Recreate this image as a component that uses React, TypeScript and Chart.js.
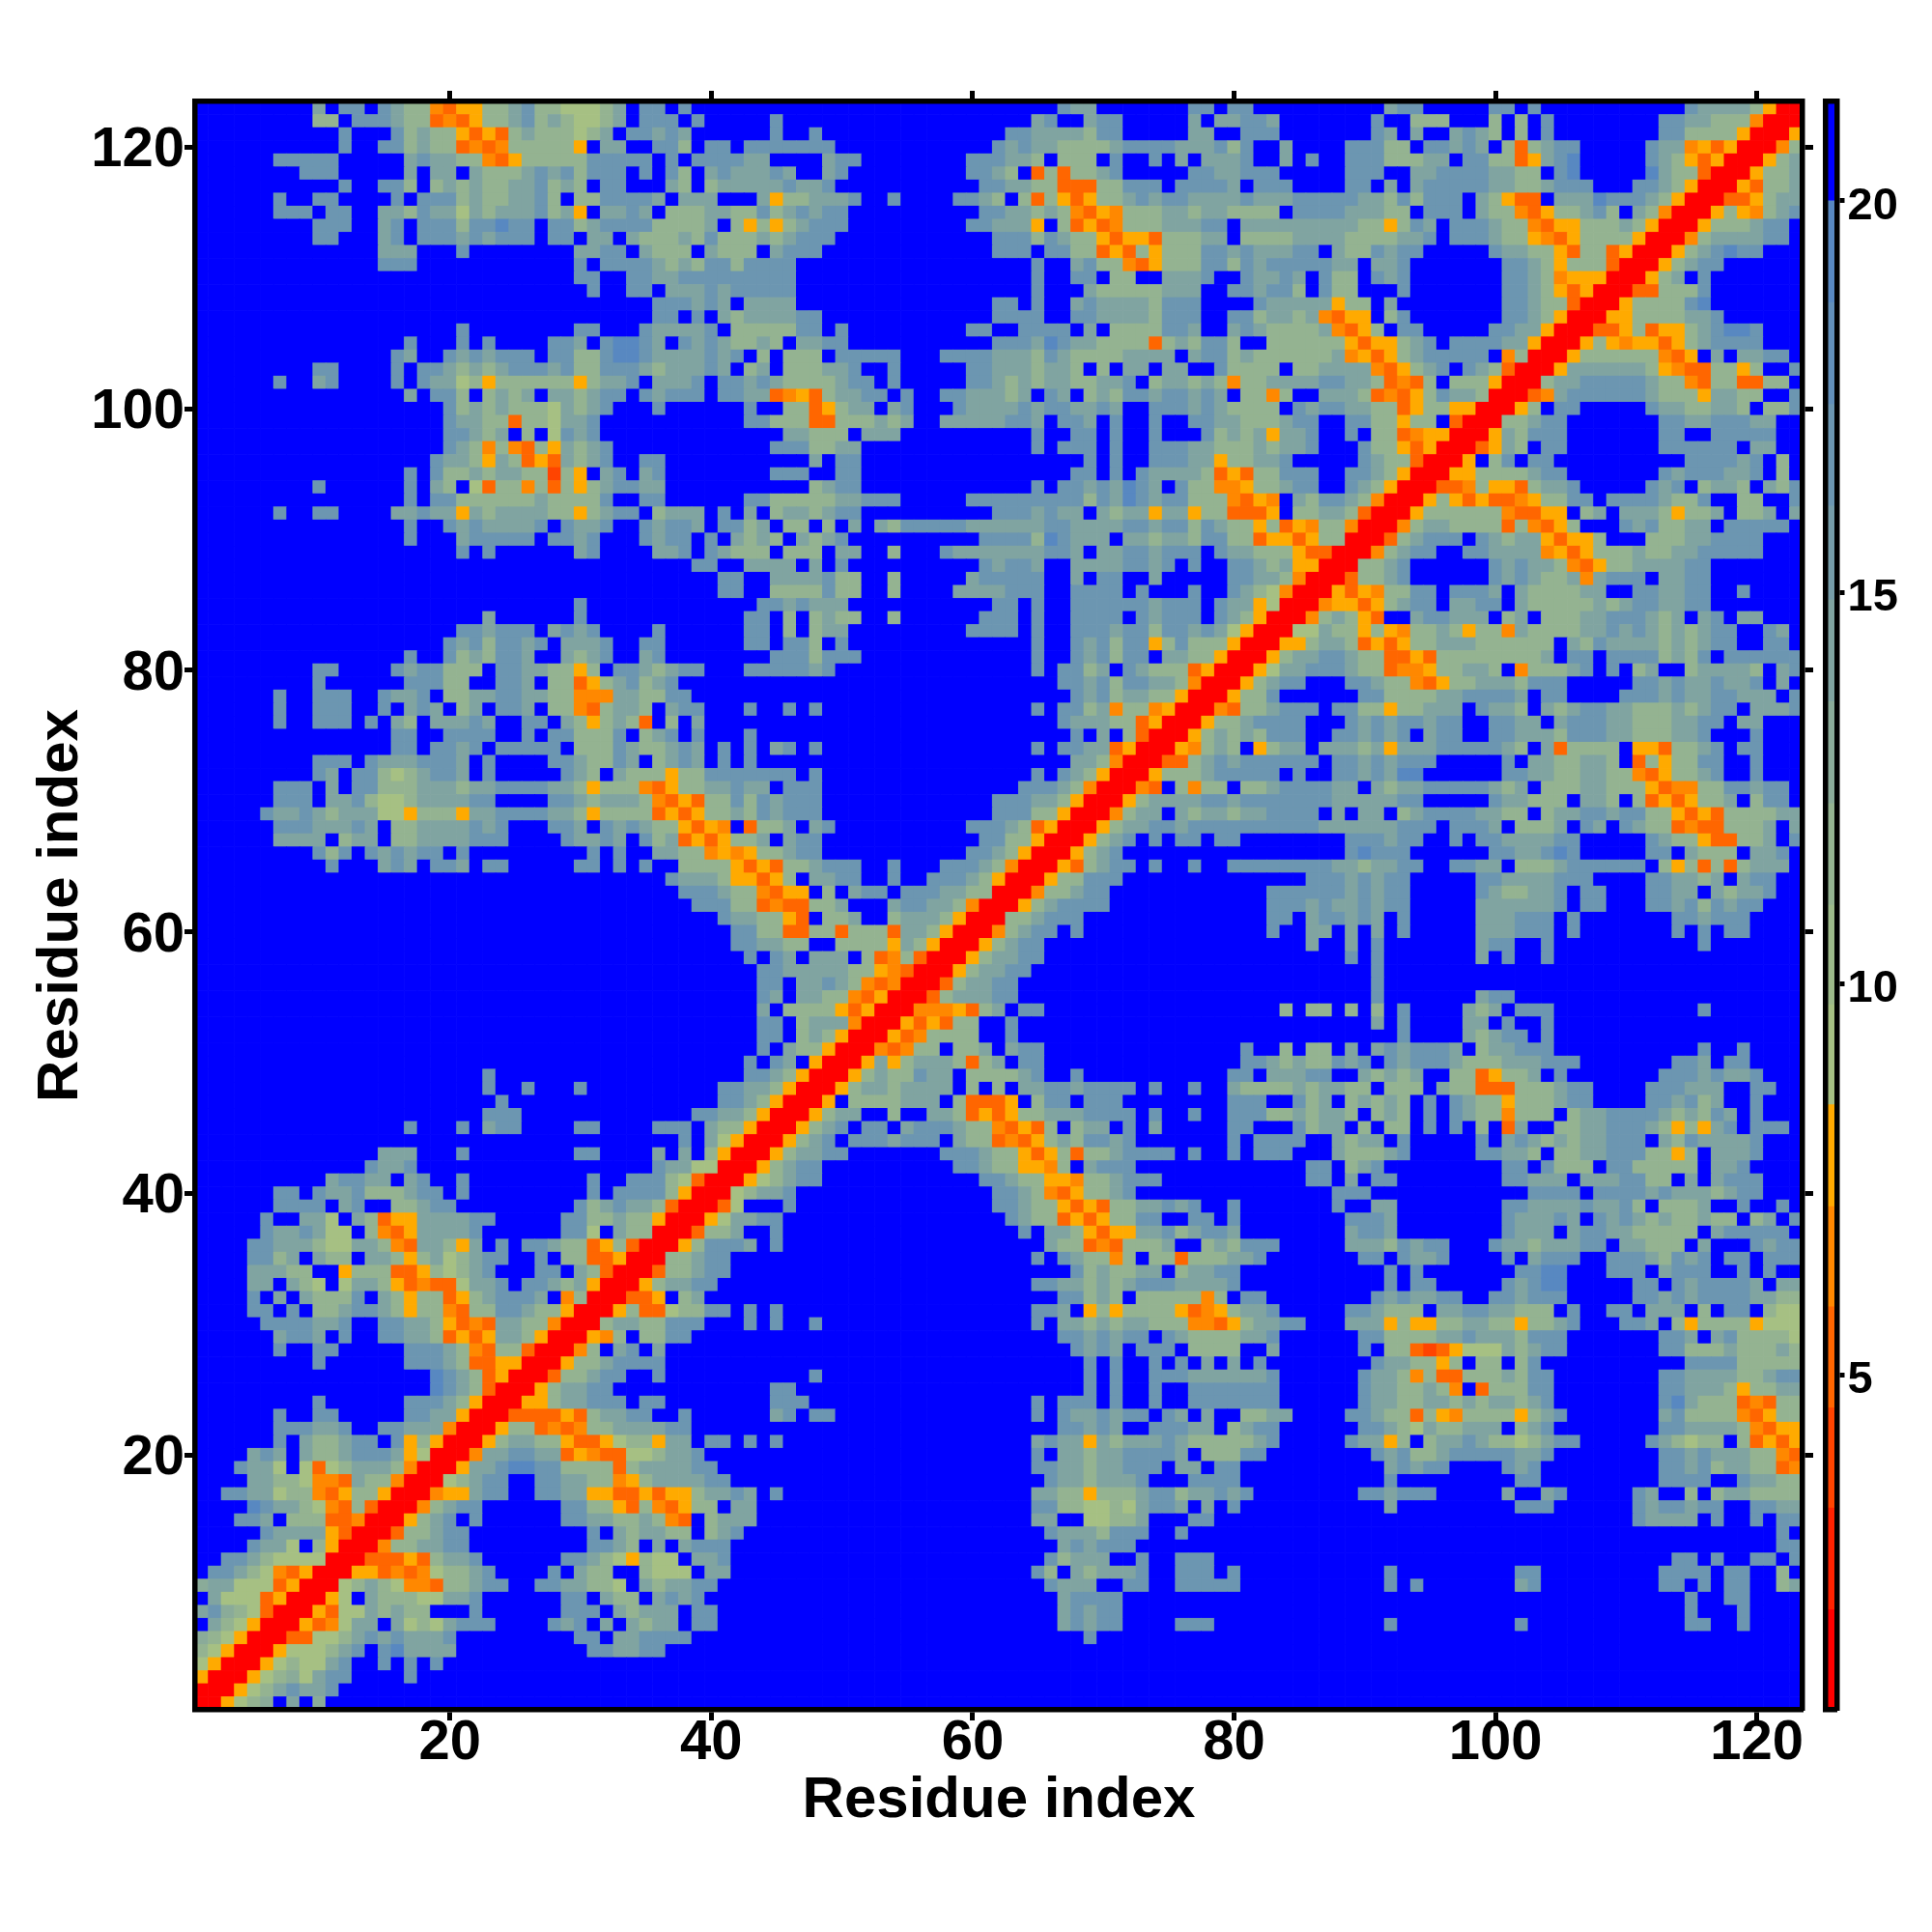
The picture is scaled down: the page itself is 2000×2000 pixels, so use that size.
import React, { useEffect, useRef } from "react";
import { Chart, registerables } from "chart.js";

Chart.register(...registerables);

const residues: number[] = Array.from({ length: 123 }, (_, i) => i + 1);
const residueTicks = [20, 40, 60, 80, 100, 120];
const colorbarTicks = [5, 10, 15, 20];

// Upper triangle, one string per row y, starting at x = y.
// Letters are colour classes, "." or a number is a blue run, "|" separates the x blocks 1-41, 42-82, 83-123.
const triangleRows: string[] = [
  "RRWacd.e.d||",
  "RRWacegeeg||",
  "RRWacdaegg4g||",
  "RRWacaaeg..g.g.g||",
  "RRWaaaceg.gieeee10ggeegg||",
  "RRTTaacegegeeeg9gg.eegggg|27g|",
  "RRWTVaee.eacaeggg4geg.e.ecee.gg|25egegg4ggg|9g9g12gg..g",
  "RRWTaaececc3g6ggg.eceee.gg|25egegg|32g3g",
  "RRWa.ecccaaeeg6gg.ecc.egeg|25egggg|32g..gg",
  "RRacecaVVTccegg..ggeecca.eceegg|24geee..gg..ggggg|9g.g7eg9gg.g.gg..ce",
  "RRWWTVTVacceg4g.ecc..caaa.ee|23gc.eceeeg..ggg.g|9g9gg9gggg.gg..c",
  "RRTTTWTceeg6ggecaWcaa.eeg|24gceee..g..ggg|31gg.g..gg.g",
  "RRVcceegg9ggec.e.eggg|25egeggg|39gg",
  "RRTccegg9g.eceecc.ce|g23geeecggg..g|39g",
  "RRWceg.g6ggeeccecVT.ce|ee21ee..aacce3gg|28geeee.g..g.gg",
  "RRVcegg6ggccWTcVTWcc|ee21ggccaacaegge.e.g|9e9ggg6geggegg..ggee",
  "RRVWWegg..ggeeWWTTWTWWcee|ge.g19eeccWccceggceegeg|7ggeggg5e..eg5ge..c.ceecccc",
  "RRacegg..ggeeccVWceeeegg|24geeceeeg3gggg|9g9gg9gggg..geecc",
  "RRWeegiiggccccTceeeegg|23ggeeceeggg.ee.gg|9egegg4geg9ggegceeccTV",
  "RRVeeggeeTWVTTaaceeg|23g.eeceegggge.cccgg|8gegccegggggeeg8ggegeeeccVT",
  "RRWceeccWTTWaccWee.gg|.g.g19egeeWeceeegeccccce|g5geeWc.ceegeccacegg5gecacc.cTWTW",
  "RRWccTVTVcceeeegg|25ggege..gggee.ceg|g6ggecaecceee.ceg8ggeeeecVTWW",
  "RRTTTTWTceegg..g|3eg.gg15g.geegegg.ge.e..cc|ee4ggeccTcWVccccWceg7egccccVTWcc",
  "RRWWceeggg.gg|3ggg17g.ggg.g..g..gggggg|g6geecceececeeceg8giecccTVTcc",
  "RRWceegg|3gg22g.g..g..gggggg|g6geeccecV.Tcccgg8ggeeecWccee",
  "RRTccegg..g|6g20g.g..gggeeeeee|g6geecVcTTcccecgg8ggeeeeccegg",
  "RRWccegggg|27g.g..g.g.e.e.g|8geeccWc.cc.cg11ggggccccc",
  "RRVc.eg.e|26gege.ggg.cccc|e6g.ccTUTWaaaecegg7ggcccecccec",
  "RRWVc.ccgg|25ggegegg.geccccee|g6ggcccceegeeecggg7gge.egcccca",
  "RRceeccggg|.g.g..g16g.eececeecccVVTWce|egg3eeeWcWWcceeccWcceg3gge.cWccccWaaa",
  "RRWcTTaccgg|.g.g19gge.WcWccccWTVWcee|g5ggeccc.eeggeeccc.g..gg.eee.c.gg.caa",
  "RRTTW.ce|25ggcec.cccccVc.gg|8gegeegg..ggeggg5ggegeggggeecc",
  "RRWceegg|23ggeececegggeeeeg|9g.gg5gegii5gg.gegggge.ee",
  "RRTccegg|26gceccee.ceegg|9g.g7ggii3ggg.eggg..g.g",
  "RRccegg|23g.geccVc.ccTccceeg|7gg.geeg4g.eggg..gggecgeg.gg.ggg",
  "RRWcgg|ge.g20eccTVTccce..cecgg|g5eeecgegg3geeceeegg.eeccc.e3gegg",
  "RRTcc|e..g18g.eecWTWWeegcegge|6egge8geee.eggeeccccc.eggggg",
  "RRWa|eegg17geccTWTWccgg..gg.g|6ggge8geeege.gegececcecc.ce.g",
  "RRT|a3g15ggeccWTWTcceegeg..g|5g..ee8ggeeeegeegc.ccce..g..g",
  "RR|aceeg15ggecVTWcceg|5ggg12gggg.ggggegeeecegg",
  "R|RWacegg12ggeccWWVcceggg|3gg.e.gg8ggeee.eeeggcc.e.eggg",
  "RRWcegg10ggeccWWVc.eggg|3gg.ceg9gg.gccc.ggccccc.eeg",
  "RRWceegg7gggeccWTWcTccegggg.g..g.g|gg3eccceg5ggeec.cceegggccWc.eeeg",
  "RRWceg.gggeggg.eccTVTWcecggeg7g.g|ggg..ecee.g5g.egececeeggg.ecgeeeeg",
  "RRWceg.gg.egggeccVTWTc.cee.g.e5gg.|..gcee.c.cc.g.g.c.Te..cceegggecWcWeg.ggg",
  "RRWcee..c..eecTWTWcceeegggg.g..g..ggg|cceceec.cec.g.geccVccc.ceeggggececge.g",
  "RRW.cccceee.cTTTW.cgg.ggg8ggg|..gce.cecec.g.geccWcccegg4ggegce..g",
  "RRWceeceeee.c.c.eeggegggg.g..g..ecc|cceceecc.ccc.eccTTTcccegg4gggeee..gg",
  "RRWceccgee.cccceg..g11gg|eeegg..ecece..ccTWcce.g7gggegeeg",
  "RRWeWceeecTce.gg15gg|ececcgeg.gegggeccceeeggg7gge.gg",
  "RRVTVcc.cce.egg15g|.c.cc.e.egeggge.ceeggg11g..g",
  "RRWTVcccc..g|10g4ecegg.g",
  "RRWTWTcc..g|8e.g4ee.g..g",
  "RRVVVWTce.gg|.c.cc.c.c.g4ece.ggg11g",
  "RRTceeegg|8g7egg",
  "RRTceegg|8g",
  "RRWceegg|8g",
  "RRWceegg|6g.g7e.g..g",
  "RRWcegg|3e..e.g7egg..g11g",
  "RRVcegg.g|g..ee.e.e.g5eeeggg.g7g.g.gg",
  "RRcceggg|gg.eggege.g5eeeggg.g7ggeggg",
  "RRWcegggg|gggegeegegg5eeeeeeg.gg3ggegcgegg",
  "RRVccegg|ggggggegegg5gecceeg.gg3ggee.eceeg",
  "RRWccggg|3gggegegg5ggeeeeggg4ggeece.egg",
  "RRWTcegg.g..g..ggg|gggggeeceegg..ggee.cccegggggg.cWcTcTceee",
  "RRWceg|6giggg6ggeegig5gg.eccc.eeg",
  "RRWceg.g.gg.gg|6gggegg..g.ggeeeegg5geccWTTcce.g",
  "RRWceeggegggggg|ggggeeeeeeggg.ggge.ccce.ge.geccTVTTccce.e",
  "RRVcee.eceecee|gggg.e.ee.ceggggeecc.ceeggeggccWTWTccccee",
  "RRWceeeeggegg|gggggeeeeegg5geeccc.eec.cTWTWcce.cgg",
  "RRVT.cVcc.cc|eggggee.eceegggggece.ccceecccWTVVccggegg",
  "RRWcccegggg|g.g..ggegeii6ggeecceeccVTWcceg..g",
  "RRTTcegegg|gggg.ggegeggg5g.eecceec.TcWccgg..g",
  "RRWVcec.W|cee.eeeceWeeegggggec.eTcccc.WWTcceg.gg",
  "RRWcecec|ggg..ggegeg.egg..ggeeecgggeeccceeg3g",
  "RRWcceg|ggg3gegeggegg..ggee.egggeeccceegg.ee",
  "RRVTcc|eggg.ggccWcceee.geec.eceggeecccecegg.eeeg",
  "RRWcc|g6ggcccceegggge.gg4gggegeeggeee.g",
  "RRWc|egg3ggeccVTWcceeecggg5ggegeegeeg.e.",
  "RRW|aeegggeccTVVWcceec.Vccceg.g.ce..ceeeec.eg",
  "RR|WceeggeccTTWTcccccccce.gg.ggggcecg.gggggg",
  "R|RWWceecTWTWcceeecccccc.ecgeeeececegg..gg",
  "RRaaeccWcWVccecWccVecccceegegececegg..ge",
  "RRVcecWT..eggeee.ce.ccceegggece.eg.ee",
  "RRVWWTWcegg.eegg.eccccceceggeegg",
  "RRWTWVccgg.ggge.eccccee..ggeegg..g",
  "RRTcceg6gegecceVeggg.eegg",
  "RRcceg6gegeecVTWcceeeegg",
  "RRVcegg..ggeeeeVWTWcccecceeggggg",
  "RRTceggg.geceeWTWWc3ccceegggg",
  "RRVceeccccTcVTWc3gegccee.ggggg",
  "RRWccccccVTTWW.ce.eeecWcce.cce.e",
  "RRWcWTWTTVWccgg.ggggeccg..cc..g",
  "RRTTVcWWTceeg5geg.ceec.ecg",
  "RRWWccccegg7gegggeeg.c.",
  "RRW.cg.gg10ggggeg.c",
  "RRTWec.gg7gggggg.ee",
  "RRWecggg7gg..ggggg",
  "RRccegg7ggeegggee",
  "RRWc.gg5geecceec.ccg",
  "RRTVeggggggecccWeecc..g",
  "RRceeggggg" + "eccVTccTTcc",
  "RRWeeeeeecWVTTccWc..g",
  "RRWccccccVTW.e.eegg",
  "RRWcWVWWTWcegggg",
  "RRTTWcTWWcegiig",
  "RRWWcccceeg",
  "RRWccccgi",
  "RRTTcccg",
  "RRWce.g",
  "RRWcegg",
  "RRWcegigg",
  "RRVceeeegg",
  "RRWcccegg",
  "RRWcWVceg",
  "RRTTWcee",
  "RRWTcce",
  "RRWcce",
  "RRWce",
  "RRVc",
  "RRW",
  "RR",
  "R",
];

const levelKeys = ["R", "S", "U", "T", "V", "W", "a", "b", "c", "d", "e", "f", "g", "h", "i", "."];
const levelEdges = [0.72, 2.0, 3.3, 4.58, 5.87, 7.15, 8.45, 9.73, 11.0, 12.3, 13.6, 14.9, 16.1, 17.4, 18.7, 20.0, 21.27];
const levelColors = [
  "#ff0000", "#ff2200", "#ff4400", "#ff6600", "#ff8800", "#ffaa00",
  "#a6c083", "#9dba8a", "#94b391", "#8aab99", "#80a4a1", "#769da9", "#6c96b1", "#628fb9", "#5888c1",
  "#0000ff",
];

function decodeMatrix(): number[][] {
  const n = residues.length;
  const m: number[][] = residues.map(() => residues.map(() => 15));
  triangleRows.forEach((row, r) => {
    const segs = row.split("|");
    const starts = [0, 41, 82].slice(3 - segs.length);
    segs.forEach((seg, s) => {
      let x = Math.max(r, starts[s]);
      const limit = starts[s] + 41;
      for (const tok of seg.match(/\d+|./g) || []) {
        if (/\d/.test(tok)) { x += Number(tok); continue; }
        if (x < limit && x < n) {
          const level = levelKeys.indexOf(tok);
          m[r][x] = level;
          m[x][r] = level;
        }
        x++;
      }
    });
  });
  return m;
}

const boldFont = (size: number) => ({ family: "'Liberation Sans', Arial, sans-serif", weight: "bold" as const, size });

function fixedSize(size: number) {
  return (scale: any) => {
    if (scale.isHorizontal()) scale.height = size;
    else scale.width = size;
  };
}

function setTicks(values: number[]) {
  return (scale: any) => {
    scale.ticks = values.map((value) => ({ value }));
  };
}

const frameBorder = { display: true, color: "#000", width: 5.5, z: 1 };

const frameAxis = (extra: any) => ({
  type: "linear",
  min: 0.5,
  max: 123.5,
  offset: false,
  afterBuildTicks: setTicks(residueTicks),
  border: frameBorder,
  grid: { drawOnChartArea: false, drawTicks: true, offset: false, tickLength: 11, tickWidth: 5, tickColor: "#000" },
  ...extra,
});

export default function App() {
  const heatRef = useRef<HTMLCanvasElement | null>(null);
  const barRef = useRef<HTMLCanvasElement | null>(null);

  useEffect(() => {
    const matrix = decodeMatrix();
    const heat = new Chart(heatRef.current as HTMLCanvasElement, {
      type: "bar",
      data: {
        labels: residues,
        datasets: residues.map((y, r) => ({
          data: residues.map(() => [y - 0.5, y + 0.5]),
          backgroundColor: matrix[r].map((level) => levelColors[level]),
          borderWidth: 0,
          barPercentage: 1,
          categoryPercentage: 1,
        })),
      } as any,
      options: {
        animation: false,
        responsive: false,
        devicePixelRatio: 1,
        events: [],
        layout: { padding: 0 },
        plugins: { legend: { display: false }, tooltip: { enabled: false } },
        scales: {
          x: frameAxis({
            position: "bottom",
            stacked: true,
            afterFit: fixedSize(230),
            ticks: { autoSkip: false, maxRotation: 0, padding: -11, color: "#000", font: boldFont(58) },
            title: { display: true, text: "Residue index", color: "#000", font: boldFont(60), padding: { top: 0, bottom: 100 } },
          }),
          y: frameAxis({
            position: "left",
            afterFit: fixedSize(202),
            ticks: { autoSkip: false, padding: 0, labelOffset: 4, color: "#000", font: boldFont(58) },
            title: { display: true, text: "Residue index", color: "#000", font: boldFont(60), padding: { top: 27, bottom: 0 } },
          }),
          xTop: frameAxis({ position: "top", afterFit: fixedSize(105), ticks: { display: false, autoSkip: false } }),
          yRight: frameAxis({ position: "right", afterFit: fixedSize(134), ticks: { display: false, autoSkip: false } }),
        },
      } as any,
    });

    const bar = new Chart(barRef.current as HTMLCanvasElement, {
      type: "bar",
      data: {
        labels: ["scale"],
        datasets: levelColors.map((color, i) => ({
          data: [[levelEdges[i], levelEdges[i + 1]]],
          backgroundColor: color,
          borderWidth: 0,
          barPercentage: 1,
          categoryPercentage: 1,
        })),
      } as any,
      options: {
        animation: false,
        responsive: false,
        devicePixelRatio: 1,
        events: [],
        layout: { padding: { left: 1889.5, top: 105, bottom: 230, right: 0 } },
        plugins: { legend: { display: false }, tooltip: { enabled: false } },
        scales: {
          x: {
            position: "bottom",
            stacked: true,
            afterFit: fixedSize(0),
            ticks: { display: false },
            grid: { drawOnChartArea: false, drawTicks: false },
            border: frameBorder,
          },
          xCap: {
            type: "category",
            labels: ["scale"],
            position: "top",
            afterFit: fixedSize(0),
            ticks: { display: false },
            grid: { drawOnChartArea: false, drawTicks: false },
            border: frameBorder,
          },
          yLeft: {
            position: "left",
            min: levelEdges[0],
            max: levelEdges[16],
            afterFit: fixedSize(0),
            ticks: { display: false },
            grid: { drawOnChartArea: false, drawTicks: false },
            border: frameBorder,
          },
          y: {
            position: "right",
            min: levelEdges[0],
            max: levelEdges[16],
            afterBuildTicks: setTicks(colorbarTicks),
            afterFit: fixedSize(98.5),
            ticks: { autoSkip: false, padding: 3, labelOffset: 6, color: "#000", font: boldFont(47) },
            grid: { drawOnChartArea: false, drawTicks: true, tickLength: 8, tickWidth: 5, tickColor: "#000" },
            border: frameBorder,
          },
        },
      } as any,
    });

    return () => {
      heat.destroy();
      bar.destroy();
    };
  }, []);

  const canvasStyle: React.CSSProperties = { position: "absolute", left: 0, top: 0, width: 2000, height: 2000, display: "block" };
  return (
    <div style={{ position: "absolute", left: 0, top: 0, width: 2000, height: 2000, background: "#fff" }}>
      <canvas ref={heatRef} width={2000} height={2000} style={canvasStyle} />
      <canvas ref={barRef} width={2000} height={2000} style={canvasStyle} />
    </div>
  );
}
